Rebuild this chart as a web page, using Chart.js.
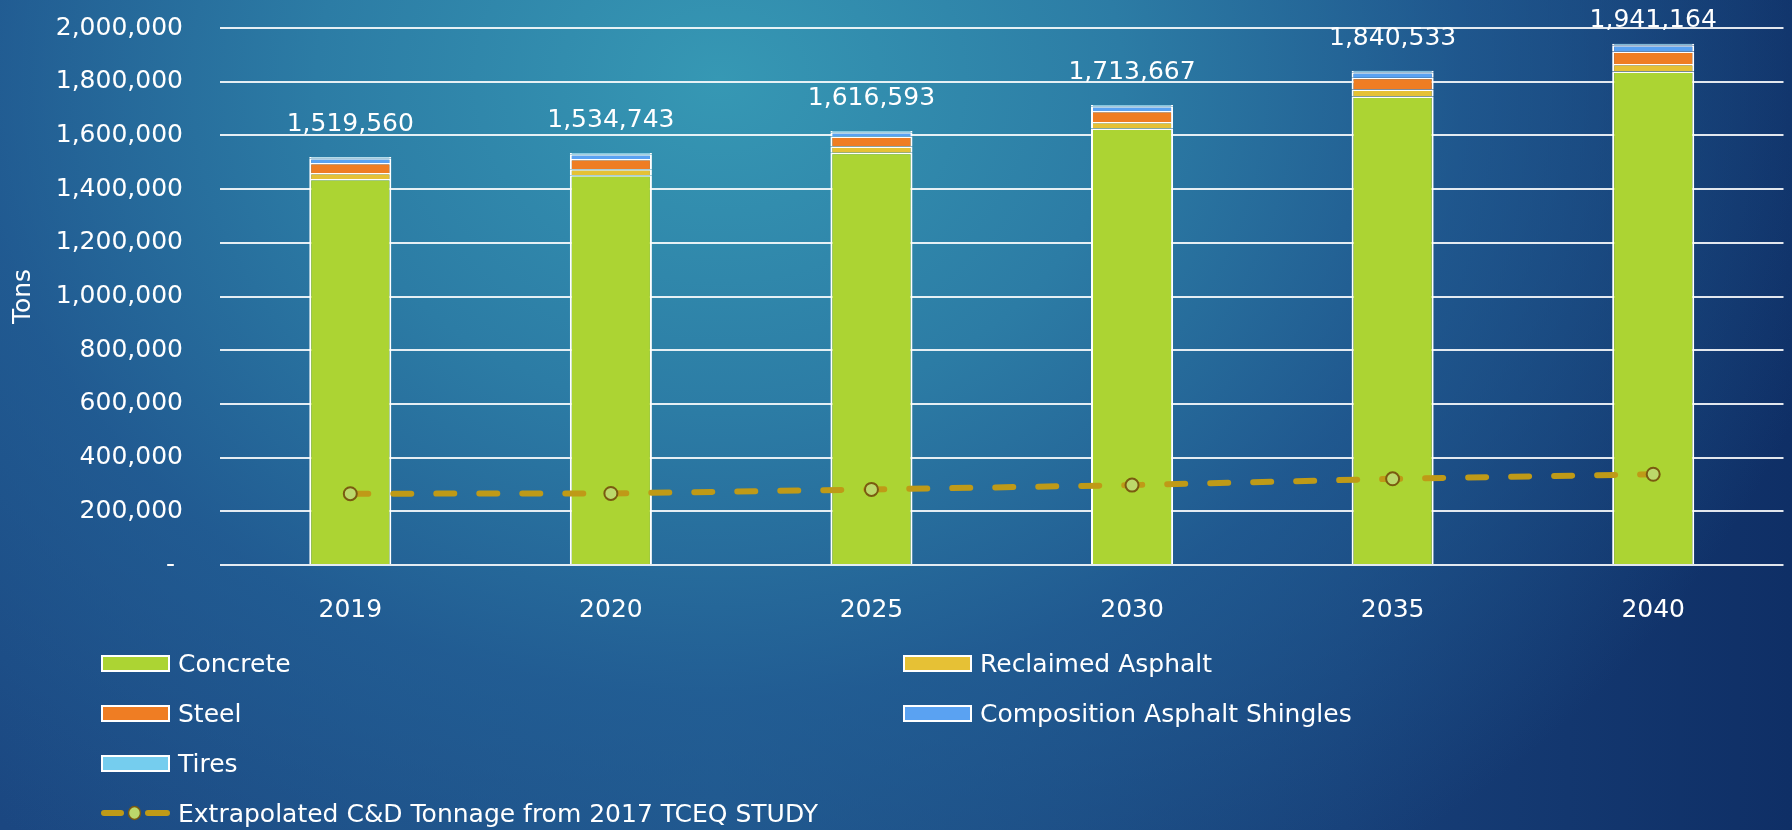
<!DOCTYPE html>
<html>
<head>
<meta charset="utf-8">
<script src="https://cdn.jsdelivr.net/npm/chart.js@4.4.1/dist/chart.umd.min.js"></script>
<style>
  html, body { margin: 0; padding: 0; }
  body {
    width: 1792px; height: 830px; overflow: hidden; position: relative;
    font-family: 'DejaVu Sans', sans-serif;
    background:
      radial-gradient(ellipse 1150px 950px at 720px 80px, #3698b4 0%, #2c7ca5 35%, rgba(35,98,152,.7) 65%, rgba(20,55,110,0) 100%),
      linear-gradient(90deg, #1b4781 0%, #1f5289 40%, #173f78 75%, #0f2f66 100%);
  }
  #wrap { position: absolute; left: 0; top: 0; width: 1792px; height: 830px; }
  #legend {
    position: absolute; left: 101px; top: 638px;
    display: grid; grid-template-columns: 802px auto; grid-auto-rows: 50px;
    color: #fff; font-size: 25px;
  }
  .item { display: flex; align-items: center; white-space: nowrap; }
  .box { width: 65px; height: 13px; border: 2px solid #fff; margin-right: 8px; box-sizing: content-box; }
  .wide { grid-column: 1 / -1; }
  .item svg { margin-right: 8px; }
</style>
</head>
<body>
<div id="wrap"><canvas id="chart" width="1792" height="830"></canvas></div>
<div id="legend"></div>
<script>
// ── Data ───────────────────────────────────────────────────────────────────────
const years     = ['2019', '2020', '2025', '2030', '2035', '2040'];
const concrete  = [1438000, 1452000, 1535000, 1626000, 1745000, 1838000];
const reclaimed = [22000, 22300, 23400, 23600, 26000, 27600];
const steel     = [37000, 37600, 37600, 41000, 43500, 47000];
const shingles  = [17500, 17800, 15600, 18000, 21000, 23500];
const tires     = [5060, 5043, 4993, 5067, 5033, 5064];
const tceq      = [265500, 266500, 281500, 297500, 321000, 338000];
const yTicks    = [0, 200000, 400000, 600000, 800000, 1000000, 1200000, 1400000, 1600000, 1800000, 2000000];

// ── Theme ──────────────────────────────────────────────────────────────────────
const C = {
  concrete: '#acd433',
  reclaimed: '#e6c135',
  steel: '#ef7d23',
  shingles: '#5aa2f2',
  tires: '#75cdee',
  line: '#bf9a17',
  pointFill: '#bcd86b',
  pointEdge: '#7a5a10',
  grid: 'rgba(255,255,255,.88)',
  font: "'DejaVu Sans', sans-serif"
};
const font = { family: C.font, size: 25 };

const bar = (label, data, color) => ({
  type: 'bar', label, data,
  backgroundColor: color,
  borderColor: '#fff',
  borderWidth: { left: 2, right: 2, top: 1.5, bottom: 0 },
  borderSkipped: false,
  barPercentage: 0.315, categoryPercentage: 1,
  stack: 'cd', order: 1
});

// Totals above each stack
const totalLabels = {
  id: 'totalLabels',
  afterDatasetsDraw(chart) {
    const { ctx, scales: { x, y } } = chart;
    ctx.save();
    ctx.font = `25px ${C.font}`;
    ctx.fillStyle = '#fff';
    ctx.textAlign = 'center';
    ctx.textBaseline = 'middle';
    years.forEach((_, i) => {
      const total = concrete[i] + reclaimed[i] + steel[i] + shingles[i] + tires[i];
      const top = y.getPixelForValue(total);
      ctx.fillText(total.toLocaleString('en-US'), x.getPixelForValue(i), Math.max(top - 32, 20));
    });
    ctx.restore();
  }
};

const chart = new Chart(document.getElementById('chart'), {
  data: {
    labels: years,
    datasets: [
      bar('Concrete', concrete, C.concrete),
      bar('Reclaimed Asphalt', reclaimed, C.reclaimed),
      bar('Steel', steel, C.steel),
      bar('Composition Asphalt Shingles', shingles, C.shingles),
      bar('Tires', tires, C.tires),
      {
        type: 'line',
        label: 'Extrapolated C&D Tonnage from 2017 TCEQ STUDY',
        data: tceq,
        borderColor: C.line,
        borderWidth: 6,
        borderDash: [18, 25],
        borderCapStyle: 'round',
        pointRadius: 6.5,
        pointBorderWidth: 2,
        pointBackgroundColor: C.pointFill,
        pointBorderColor: C.pointEdge,
        tension: 0,
        stack: 'trend', order: 0
      }
    ]
  },
  options: {
    responsive: false,
    animation: false,
    layout: { padding: { top: 28, right: 4, bottom: 205, left: 0 } },
    plugins: { legend: { display: false }, tooltip: { enabled: false } },
    scales: {
      x: {
        stacked: true,
        grid: { display: false },
        border: { display: false },
        ticks: { color: '#fff', font, padding: 22 },
        afterFit: s => { s.height = 60; }
      },
      y: {
        stacked: true,
        min: 0, max: 2000000,
        afterBuildTicks: s => { s.ticks = yTicks.map(v => ({ value: v })); },
        // tick marks kept invisible: their length pushes the labels left
        grid: { color: C.grid, lineWidth: 2, drawTicks: true, tickLength: 32, tickColor: 'rgba(0,0,0,0)' },
        border: { display: false },
        ticks: {
          color: '#fff', font, padding: 5,
          callback: v => v === 0 ? '- ' : v.toLocaleString('en-US')
        },
        title: { display: true, text: 'Tons', color: '#fff', font, padding: { top: 8, bottom: 0 } },
        afterFit: s => { s.width = 220; }
      }
    }
  },
  plugins: [totalLabels]
});

// ── Legend (built from the chart's datasets) ───────────────────────────────────
const legend = document.getElementById('legend');
chart.data.datasets.forEach(ds => {
  const item = document.createElement('div');
  item.className = 'item';
  if (ds.type === 'line') {
    item.classList.add('wide');
    item.innerHTML =
      `<svg width="69" height="16" viewBox="0 0 69 16">
         <line x1="3" y1="8" x2="20" y2="8" stroke="${C.line}" stroke-width="6" stroke-linecap="round"/>
         <line x1="47" y1="8" x2="66" y2="8" stroke="${C.line}" stroke-width="6" stroke-linecap="round"/>
         <ellipse cx="33.5" cy="8" rx="6" ry="6.5" fill="${C.pointFill}" stroke="${C.pointEdge}" stroke-width="1.5"/>
       </svg>`;
  } else {
    const box = document.createElement('span');
    box.className = 'box';
    box.style.background = ds.backgroundColor;
    item.appendChild(box);
  }
  item.appendChild(document.createTextNode(ds.label));
  legend.appendChild(item);
});
</script>
</body>
</html>
